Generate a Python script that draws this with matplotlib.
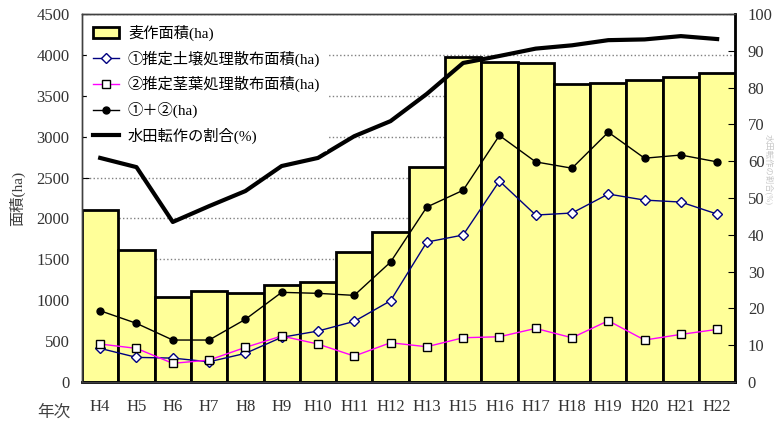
import numpy as np
import matplotlib
matplotlib.use("Agg")
from matplotlib import pyplot as plt

plt.rcParams['font.family'] = ['Liberation Serif', 'Noto Sans CJK JP', 'DejaVu Sans']

years = ['H4', 'H5', 'H6', 'H7', 'H8', 'H9', 'H10', 'H11', 'H12', 'H13',
         'H15', 'H16', 'H17', 'H18', 'H19', 'H20', 'H21', 'H22']
wheat_area = [2110, 1610, 1045, 1110, 1095, 1185, 1225, 1585, 1835, 2630,
              3975, 3910, 3900, 3650, 3660, 3690, 3725, 3780]
soil_area = [412, 302, 293, 248, 351, 547, 624, 742, 994, 1712,
             1798, 2458, 2042, 2067, 2299, 2225, 2201, 2054]
foliar_area = [465, 412, 229, 269, 424, 563, 465, 318, 481, 432,
               542, 554, 656, 542, 750, 514, 583, 644]
total_area = [872, 718, 514, 514, 767, 1097, 1085, 1060, 1467, 2140,
              2345, 3015, 2692, 2615, 3055, 2737, 2776, 2692]
paddy_ratio = [60.9, 58.4, 43.5, 47.8, 51.9, 58.7, 60.9, 66.8, 70.9, 78.3,
               86.7, 88.6, 90.6, 91.5, 92.9, 93.1, 94.0, 93.2]

x = np.arange(len(years))

fig = plt.figure(figsize=(7.74, 4.25), dpi=100)
ax = fig.add_axes([0.106, 0.101, 0.844, 0.866])
ax2 = ax.twinx()

# bars and grid on the left axis
ax.set_axisbelow(True)
ax.grid(axis='y', linestyle=':', color='#808080', linewidth=1)
b = ax.bar(x, wheat_area, width=1.0, color='#FFFF99', edgecolor='black',
           linewidth=2, label='麦作面積(ha)')
l1, = ax.plot(x, soil_area, color='#000080', linewidth=1, marker='D', markersize=5,
              markerfacecolor='white', markeredgecolor='#000080',
              label='①推定土壌処理散布面積(ha)')
l2, = ax.plot(x, foliar_area, color='#FF00FF', linewidth=1, marker='s', markersize=6,
              markerfacecolor='white', markeredgecolor='black',
              label='②推定茎葉処理散布面積(ha)')
l3, = ax.plot(x, total_area, color='black', linewidth=1, marker='o', markersize=5,
              label='①＋②(ha)')
l4, = ax2.plot(x, paddy_ratio, color='black', linewidth=3, label='水田転作の割合(%)')

ax.set_xlim(-0.5, len(years) - 0.5)
ax.set_ylim(0, 4500)
ax.set_yticks(np.arange(0, 4501, 500))
ax2.set_ylim(0, 100)
ax2.set_yticks(np.arange(0, 101, 10))
ax.set_xticks(x)
ax.set_xticklabels(years)

ax.tick_params(axis='x', length=0, pad=12, labelsize=12, labelcolor='#333333')
ax.tick_params(axis='y', direction='in', length=5, pad=9, labelsize=12,
               labelcolor='#333333')
ax2.tick_params(axis='y', direction='in', length=5, pad=9, labelsize=12,
                labelcolor='#333333')

for a in (ax, ax2):
    for s in a.spines.values():
        s.set_color('#404040')
        s.set_linewidth(1)
ax2.spines['right'].set_color('black')
ax2.spines['right'].set_linewidth(2)
ax.spines['bottom'].set_color('black')
ax.spines['bottom'].set_linewidth(2)

ax.set_ylabel('面積(ha)', fontsize=11, color='#404040', labelpad=8)
fig.text(0.07, 0.02, '年次', fontsize=12, color='#404040', ha='center')
fig.text(0.999, 0.6, '水田転作の割合(%)', fontsize=6, color='#c8c8c8',
         rotation=-90, ha='right', va='center')

leg = ax2.legend(handles=[b, l1, l2, l3, l4], loc='upper left',
                 bbox_to_anchor=(0.0, 1.0), frameon=True, fontsize=11,
                 labelspacing=0.62, handlelength=1.7, handletextpad=0.6,
                 borderaxespad=0.3, fancybox=False)
leg.get_frame().set_edgecolor('white')
leg.get_frame().set_alpha(1)

fig.savefig('out.png', dpi=100)
